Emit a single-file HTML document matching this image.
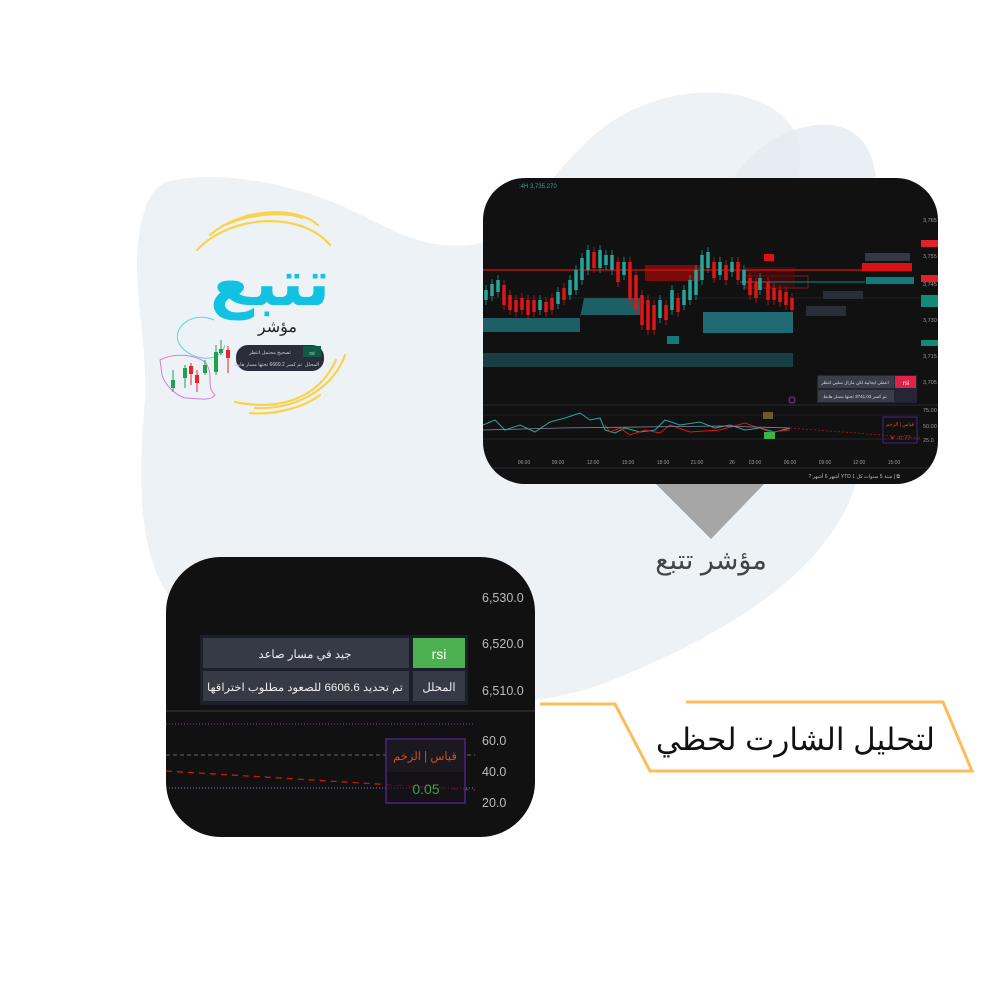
<!DOCTYPE html>
<html><head><meta charset="utf-8"><style>
html,body{margin:0;padding:0;background:#fff;}
body{width:1000px;height:1000px;position:relative;overflow:hidden;font-family:"Liberation Sans","Noto Sans CJK SC",sans-serif;}
svg{position:absolute;left:0;top:0}
</style></head><body>
<svg width="1000" height="1000" viewBox="0 0 1000 1000" xmlns="http://www.w3.org/2000/svg" font-family="Liberation Sans, Noto Sans CJK SC, sans-serif">
<path d="M166,182 C210,170 280,180 340,205 C390,228 420,250 470,245 C520,240 540,180 600,130 C650,90 730,80 775,110 C810,135 800,170 795,190 L860,300 C880,380 875,440 850,500 C820,570 740,630 600,685 C520,712 420,710 330,680 C260,660 200,640 165,590 C135,540 140,460 145,400 C148,340 130,280 140,230 C145,205 150,190 166,182 Z" fill="#edf2f6"/>
<path d="M735,175 C760,140 800,122 830,125 C865,128 880,160 875,200 L878,300 L735,300 Z" fill="#e3ebf1" opacity="0.8"/>

<g fill="none" stroke="#fbd34a" stroke-width="2.2" stroke-linecap="round">
<path d="M197,250 C230,215 300,210 330,245"/>
<path d="M210,235 C245,205 300,208 318,225"/>
<path d="M225,225 C255,212 290,212 302,218"/>
<path d="M345,355 C335,385 300,410 255,408"/>
<path d="M336,360 C320,395 285,412 235,402"/>
<path d="M320,395 C300,410 270,415 250,413"/>
</g>
<text x="330" y="305" font-size="64" font-weight="bold" fill="#12c2e2" text-anchor="end" font-family="DejaVu Sans, sans-serif">تتبع</text>
<path d="M214,320 C190,310 170,330 180,345 C190,360 220,365 225,345" fill="none" stroke="#5fd0ec" stroke-width="1"/>
<text x="297" y="332" font-size="16" fill="#222" text-anchor="end">مؤشر</text>
<path d="M160,360 C175,352 195,355 205,362 C215,375 205,385 215,395 C210,402 195,398 185,398 C175,395 165,385 162,375 Z" fill="none" stroke="#d47ed8" stroke-width="1"/>
<g>
<line x1="173" y1="370" x2="173" y2="392" stroke="#22a04a"/><rect x="171" y="380" width="4" height="8" fill="#22a04a"/>
<line x1="185" y1="365" x2="185" y2="388" stroke="#22a04a"/><rect x="183" y="368" width="4" height="10" fill="#22a04a"/>
<line x1="191" y1="363" x2="191" y2="385" stroke="#e22"/><rect x="189" y="366" width="4" height="8" fill="#e22"/>
<line x1="197" y1="370" x2="197" y2="392" stroke="#e22"/><rect x="195" y="375" width="4" height="8" fill="#e22"/>
<line x1="205" y1="360" x2="205" y2="375" stroke="#22a04a"/><rect x="203" y="365" width="4" height="8" fill="#22a04a"/>
<line x1="216" y1="345" x2="216" y2="375" stroke="#22a04a"/><rect x="214" y="352" width="4" height="20" fill="#22a04a"/>
<line x1="221" y1="340" x2="221" y2="355" stroke="#22a04a"/><rect x="219" y="349" width="4" height="4" fill="#22a04a"/>
<line x1="228" y1="346" x2="228" y2="373" stroke="#e22"/><rect x="226" y="350" width="4" height="8" fill="#e22"/>
</g>
<rect x="236" y="345" width="88" height="26" rx="12" fill="#2a2e3a"/>
<rect x="303" y="346" width="18" height="11" fill="#0f5b48"/>
<text x="270" y="354" font-size="5" fill="#ccc" text-anchor="middle">تصحيح محتمل انتظر</text>
<text x="268" y="366" font-size="5" fill="#ccc" text-anchor="middle">تم كسر 6669.2 تحتها مسار هابط</text>
<text x="312" y="355" font-size="5" fill="#ccc" text-anchor="middle">rsi</text>
<text x="312" y="366" font-size="5" fill="#ccc" text-anchor="middle">المحلل</text>

<polygon points="655,483 765,483 711,539" fill="#a6a6a6"/>
<text x="711" y="569" font-size="27" fill="#444" text-anchor="middle">مؤشر تتبع</text>

<g fill="none" stroke="#fbbd59" stroke-width="3">
<polyline points="686,702 943,702 972,771 650,771 615,704 540,704"/>
</g>
<text x="935" y="750" font-size="31" fill="#111" text-anchor="end">لتحليل الشارت لحظي</text>

<clipPath id="c1"><rect x="483" y="178" width="455" height="306" rx="42"/></clipPath>
<g clip-path="url(#c1)">
<rect x="483" y="178" width="455" height="306" fill="#111112"/>
<text x="519" y="188" font-size="6" fill="#26a69a">:4H 3,735.270</text>
<path d="M483,318 L580,318 L584,298 L640,298 L640,315 L580,315 L580,332 L483,332 Z" fill="#1d5f66"/>
<rect x="703" y="312" width="90" height="21" fill="#1f6a72"/>
<rect x="483" y="353" width="310" height="14" fill="#163e43"/>
<rect x="645" y="265" width="55" height="16" fill="#7a0b0b"/>
<rect x="745" y="276" width="63" height="12" fill="none" stroke="#a02020" stroke-width="0.8"/>
<rect x="745" y="267" width="50" height="20" fill="#5a0a0a" opacity="0.6"/>
<line x1="483" y1="270" x2="865" y2="270" stroke="#d11" stroke-width="1.2"/>
<line x1="740" y1="282" x2="865" y2="282" stroke="#0b8a8c" stroke-width="1"/>
<line x1="483" y1="298" x2="938" y2="298" stroke="#333" stroke-width="0.5"/>
<!-- wicks -->
<path stroke-width="0.7" stroke="#26a69a" d="M486,285v20M492,279v22M498,275v22M540,295v20M558,287v22M570,275v25M576,265v30M582,253v32M588,245v30M600,245v28M606,250v20M612,250v25M624,257v23M660,295v28M672,285v30M684,285v25M690,275v30M696,265v35M702,250v35M708,247v26M720,257v23M732,257v20M744,265v25M760,273v22"/>
<path stroke-width="0.7" stroke="#e01515" d="M504,280v30M510,290v25M516,295v22M522,293v22M528,295v25M534,295v22M546,297v20M552,293v22M564,283v22M594,247v26M618,257v30M630,257v48M636,270v45M642,290v40M648,295v40M654,300v35M666,300v25M678,293v24M714,257v26M726,260v25M738,257v28M750,273v27M756,277v26M768,277v28M774,283v22M780,285v22M786,287v23M792,293v22"/>
<!-- bodies -->
<path stroke-width="3.5" stroke="#26a69a" d="M486,290v10M492,284v12M498,280v12M540,300v10M558,292v12M570,280v15M576,270v20M582,258v22M588,250v20M600,250v18M606,255v10M612,255v15M624,262v13M660,300v18M672,290v20M684,290v15M690,280v20M696,270v25M702,255v25M708,252v16M720,262v13M732,262v10M744,270v15M760,278v12"/>
<path stroke-width="3.5" stroke="#e01515" d="M504,285v20M510,295v15M516,300v12M522,298v12M528,300v15M534,300v12M546,302v10M552,298v12M564,288v12M594,252v16M618,262v20M630,262v38M636,275v35M642,295v30M648,300v30M654,305v25M666,305v15M678,298v14M714,262v16M726,265v15M738,262v18M750,278v17M756,282v16M768,282v18M774,288v12M780,290v12M786,292v13M792,298v12"/>
<rect x="764" y="254" width="10" height="7" fill="#d11"/>
<rect x="862" y="263" width="50" height="8" fill="#d11"/>
<rect x="865" y="253" width="45" height="8" fill="#333a44"/>
<rect x="866" y="277" width="48" height="7" fill="#137a7c"/>
<rect x="823" y="291" width="40" height="8" fill="#2a2e38"/>
<rect x="806" y="306" width="40" height="10" fill="#2a2e38"/>
<rect x="667" y="336" width="12" height="8" fill="#137a7c"/>
<g font-size="5.5" fill="#999">
<text x="923" y="222">3,765</text><text x="923" y="258">3,755</text><text x="923" y="286">3,745</text><text x="923" y="322">3,730</text><text x="923" y="358">3,715</text><text x="923" y="384">3,705</text><text x="923" y="412">75.00</text><text x="923" y="428">50.00</text><text x="923" y="442">25.0</text>
</g>
<rect x="921" y="240" width="18" height="7" fill="#e0222a"/>
<rect x="921" y="275" width="18" height="7" fill="#e0222a"/>
<rect x="921" y="295" width="18" height="12" fill="#138a75"/>
<rect x="921" y="340" width="18" height="6" fill="#138a75"/>
<rect x="817" y="375" width="100" height="28" fill="#242733"/>
<rect x="818" y="376" width="76" height="12" fill="#3a3e4a"/>
<rect x="895" y="376" width="21" height="12" fill="#e0224a"/>
<rect x="818" y="390" width="76" height="12" fill="#3a3e4a"/>
<text x="906" y="385" font-size="6" fill="#fff" text-anchor="middle">rsi</text>
<text x="855" y="384" font-size="4.5" fill="#ddd" text-anchor="middle">اعطى ايجابية لكن مازال سلبي انتظر</text>
<text x="855" y="398" font-size="4.5" fill="#ddd" text-anchor="middle">تم كسر 3741.03 تحتها مسار هابط</text>
<circle cx="792" cy="400" r="3" fill="none" stroke="#8a3aa0"/>
<line x1="483" y1="405" x2="938" y2="405" stroke="#2a2a2e"/>
<line x1="483" y1="415" x2="920" y2="415" stroke="#3a2a44" stroke-width="0.5"/>
<line x1="483" y1="439" x2="920" y2="439" stroke="#3a3a44" stroke-width="0.5"/>
<polyline points="483,425 495,420 505,430 520,425 535,432 550,422 565,418 580,413 590,420 600,418 605,430 615,433 625,428 640,432 655,430 665,420 680,425 700,422 715,428 730,425 745,430 760,428 775,432 790,428" fill="none" stroke="#26a69a" stroke-width="1"/>
<polyline points="605,425 610,432 620,428 630,435 645,430 660,433 670,425 690,432 720,430 745,423 770,432 790,430" fill="none" stroke="#e01515" stroke-width="1"/>
<polyline points="483,430 560,428 640,427 720,426 790,428" fill="none" stroke="#8888aa" stroke-width="0.8"/>
<line x1="790" y1="428" x2="920" y2="438" stroke="#b01515" stroke-dasharray="2 2" stroke-width="0.8"/>
<rect x="763" y="412" width="10" height="7" fill="#6b5a2a"/>
<rect x="764" y="432" width="11" height="7" fill="#3ab34a"/>
<rect x="883" y="417" width="34" height="26" fill="none" stroke="#5a2aa0" stroke-width="0.8"/>
<text x="900" y="426" font-size="5" fill="#d05a1a" text-anchor="middle">قياس | الزخم</text>
<text x="900" y="440" font-size="6" fill="#d02020" text-anchor="middle">▼ -0.77</text>
<g font-size="5" fill="#999" text-anchor="middle">
<text x="524" y="464">06:00</text><text x="558" y="464">09:00</text><text x="593" y="464">12:00</text><text x="628" y="464">15:00</text><text x="663" y="464">18:00</text><text x="697" y="464">21:00</text><text x="732" y="464">26</text><text x="755" y="464">03:00</text><text x="790" y="464">06:00</text><text x="825" y="464">09:00</text><text x="859" y="464">12:00</text><text x="894" y="464">15:00</text>
</g>
<line x1="483" y1="468" x2="938" y2="468" stroke="#2a2a2e"/>
<text x="900" y="478" font-size="5" fill="#bbb" text-anchor="end">? أشهر  6 أشهر  YTD  1 سنة  5 سنوات  كل  |  ⧉</text>
</g>

<clipPath id="c2"><rect x="166" y="557" width="369" height="280" rx="55"/></clipPath>
<g clip-path="url(#c2)">
<rect x="166" y="557" width="369" height="280" fill="#111112"/>
<g font-size="12.5" fill="#bbb">
<text x="482" y="602">6,530.0</text><text x="482" y="648">6,520.0</text><text x="482" y="695">6,510.0</text>
<text x="482" y="745">60.0</text><text x="482" y="776">40.0</text><text x="482" y="807">20.0</text>
</g>
<rect x="200" y="635" width="268" height="70" fill="#1a1f2a"/>
<rect x="203" y="638" width="206" height="30" fill="#363a45"/>
<rect x="413" y="638" width="52" height="30" fill="#4caf50"/>
<rect x="203" y="671" width="206" height="30" fill="#363a45"/>
<rect x="413" y="671" width="52" height="30" fill="#363a45"/>
<text x="305" y="658" font-size="11.5" fill="#eee" text-anchor="middle">جيد في مسار صاعد</text>
<text x="439" y="659" font-size="14" fill="#fff" text-anchor="middle">rsi</text>
<text x="305" y="691" font-size="11" fill="#eee" text-anchor="middle" textLength="196" lengthAdjust="spacingAndGlyphs">تم تحديد 6606.6 للصعود مطلوب اختراقها</text>
<text x="439" y="691" font-size="11.5" fill="#eee" text-anchor="middle">المحلل</text>
<line x1="166" y1="711" x2="535" y2="711" stroke="#3a3a3e"/>
<line x1="166" y1="724" x2="475" y2="724" stroke="#8a3aa0" stroke-dasharray="1 2"/>
<line x1="166" y1="755" x2="475" y2="755" stroke="#666" stroke-dasharray="4 3"/>
<line x1="166" y1="788" x2="475" y2="788" stroke="#8a7ad0" stroke-dasharray="1 2"/>
<line x1="166" y1="771" x2="475" y2="790" stroke="#d01515" stroke-width="1.3" stroke-dasharray="6 5"/>
<rect x="386" y="739" width="79" height="64" fill="#151218" stroke="#5a2aa0" stroke-width="1.2" fill-opacity="0.7"/>
<rect x="387" y="740" width="77" height="32" fill="#1c1820"/>
<text x="425" y="760" font-size="11.5" fill="#d0501a" text-anchor="middle">قياس | الزخم</text>
<text x="426" y="794" font-size="14" fill="#3aa04a" text-anchor="middle">0.05</text>
</g>
</svg>
</body></html>
